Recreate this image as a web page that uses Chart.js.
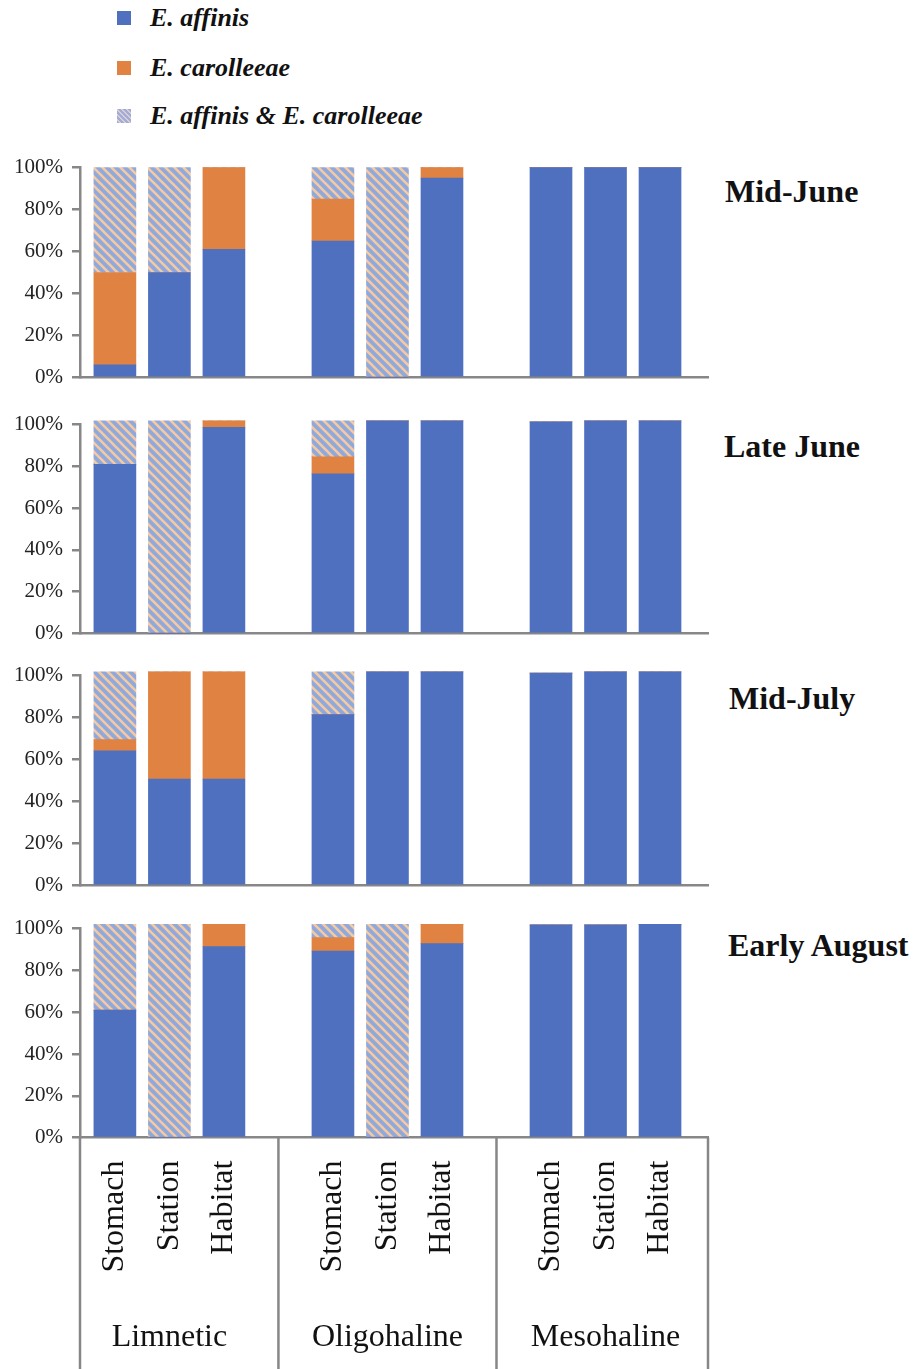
<!DOCTYPE html>
<html>
<head>
<meta charset="utf-8">
<title>E. affinis / E. carolleeae by salinity zone</title>
<script src="https://cdn.jsdelivr.net/npm/chart.js@4.4.1/dist/chart.umd.min.js"></script>
<style>
  body { margin: 0; width: 923px; height: 1369px; overflow: hidden; background: #fff; position: relative;
         font-family: 'Liberation Serif', 'DejaVu Serif', serif; }
  .panel { position: absolute; left: 0; top: 0; }
  .when { position: absolute; font-weight: bold; font-size: 32px; line-height: 32px; color: #111; white-space: nowrap; }
  .leg { position: absolute; left: 117px; height: 30px; display: flex; align-items: center;
         font-weight: bold; font-style: italic; font-size: 26px; color: #111; white-space: nowrap; }
  .leg span.box { display: inline-block; width: 14px; height: 14px; margin-right: 19px; }
</style>
</head>
<body>
<div id="legend"></div>
<div id="titles"></div>
<div class="panel" id="p0"><canvas id="c0" width="923" height="250"></canvas></div>
<div class="panel" id="p1"><canvas id="c1" width="923" height="250"></canvas></div>
<div class="panel" id="p2"><canvas id="c2" width="923" height="250"></canvas></div>
<div class="panel" id="p3"><canvas id="c3" width="923" height="500"></canvas></div>
<script>
// categories along x, '' = gap between salinity zones
const categories = ['Stomach', 'Station', 'Habitat', '', 'Stomach', 'Station', 'Habitat', '', 'Stomach', 'Station', 'Habitat'];
const zones = ['Limnetic', 'Oligohaline', 'Mesohaline'];
const periods = ['Mid-June', 'Late June', 'Mid-July', 'Early August'];
const seriesNames = ['E. affinis', 'E. carolleeae', 'E. affinis & E. carolleeae'];
const yTicks = [0, 20, 40, 60, 80, 100];

// one row per period (Mid-June, Late June, Mid-July, Early August), in %
const affinis = [
  [6, 50, 61, null, 65, 0, 95, null, 100, 100, 100],
  [81, 0, 98.7, null, 76.4, 101.8, 101.8, null, 101.3, 101.8, 101.8],
  [64.2, 50.7, 50.7, null, 81.4, 101.8, 101.8, null, 101.2, 101.8, 101.8],
  [61, 0, 91.4, null, 89.3, 0, 92.8, null, 101.8, 101.8, 102]
];
const carolleeae = [
  [44, 0, 39, null, 20, 0, 5, null, 0, 0, 0],
  [0, 0, 3.1, null, 8.2, 0, 0, null, 0, 0, 0],
  [5.3, 51.1, 51.1, null, 0, 0, 0, null, 0, 0, 0],
  [0, 0, 10.6, null, 6.4, 0, 9.2, null, 0, 0, 0]
];
const both = [
  [50, 50, 0, null, 15, 100, 0, null, 0, 0, 0],
  [20.8, 101.8, 0, null, 17.2, 0, 0, null, 0, 0, 0],
  [32.3, 0, 0, null, 20.4, 0, 0, null, 0, 0, 0],
  [41, 102, 0, null, 6.3, 102, 0, null, 0, 0, 0]
];

// page layout (pixels)
const areaTop = [168, 425, 676, 929];
const areaBottom = [378, 633.5, 885.5, 1138];
const titleLeft = [725, 724, 729, 728];
const titleMid = [191, 446, 698, 945];
const legendMid = [18, 68, 116];

const serif = "'Liberation Serif', 'DejaVu Serif', serif";
const blue = '#4e70bf';
const orange = '#e08241';
const axisColor = '#878787';

function hatch(ctx) {
  const s = 9;
  const t = document.createElement('canvas');
  t.width = t.height = s;
  const g = t.getContext('2d');
  g.fillStyle = '#8fa9db';
  g.fillRect(0, 0, s, s);
  g.strokeStyle = '#f6c9a2';
  g.lineWidth = 2.6;
  for (let k = -1; k <= 1; k++) {
    g.beginPath();
    g.moveTo(-1, -1 + k * s);
    g.lineTo(s + 1, s + 1 + k * s);
    g.stroke();
  }
  return ctx.createPattern(t, 'repeat');
}

// Excel leaves more room right of the last bar than a plain category axis
function spreadSlots(scale) {
  scale._startValue = -0.64;
  scale._valueRange = 11.52;
}

// vertical lines of the label table under the last panel
const tableLines = {
  id: 'tableLines',
  afterDraw(chart) {
    const { ctx, chartArea, scales } = chart;
    const xs = [chartArea.left, chartArea.right];
    categories.forEach((c, i) => { if (c === '') xs.push(scales.x.getPixelForValue(i)); });
    ctx.save();
    ctx.strokeStyle = axisColor;
    ctx.lineWidth = 2.5;
    xs.forEach(x => {
      ctx.beginPath();
      ctx.moveTo(x, chartArea.bottom);
      ctx.lineTo(x, chart.height);
      ctx.stroke();
    });
    ctx.restore();
  }
};

function makePanel(i) {
  const last = i === periods.length - 1;
  const canvas = document.getElementById('c' + i);
  const ctx = canvas.getContext('2d');
  const scales = {
    x: {
      stacked: true,
      offset: true,
      afterBuildTicks: spreadSlots,
      grid: { display: false },
      border: { display: true, color: axisColor, width: 2.5 },
      ticks: last
        ? { autoSkip: false, minRotation: 90, maxRotation: 90, padding: 15, color: '#111', font: { family: serif, size: 32 } }
        : { display: false }
    },
    y: {
      stacked: true,
      min: 0,
      max: 100,
      afterFit: s => { s.width = 80; },
      afterBuildTicks: s => { s.ticks = yTicks.map(v => ({ value: v })); },
      grid: { drawOnChartArea: false, drawTicks: true, tickLength: 8, color: axisColor, lineWidth: 2.5 },
      border: { color: axisColor, width: 2.5 },
      ticks: { autoSkip: false, padding: 9, color: '#222', font: { family: serif, size: 21 }, callback: v => v + '%' }
    }
  };
  if (last) {
    scales.x2 = {
      type: 'category',
      position: 'bottom',
      offset: true,
      afterBuildTicks: spreadSlots,
      grid: { display: false },
      border: { display: false },
      ticks: {
        autoSkip: false, maxRotation: 0, padding: 23, color: '#111', font: { family: serif, size: 32 },
        callback: (v, idx) => idx % 4 === 1 ? zones[Math.floor(idx / 4)] : ''
      }
    };
  }
  const chart = new Chart(ctx, {
    type: 'bar',
    data: {
      labels: categories,
      datasets: [
        { label: seriesNames[0], data: affinis[i], backgroundColor: blue },
        { label: seriesNames[1], data: carolleeae[i], backgroundColor: orange },
        { label: seriesNames[2], data: both[i], backgroundColor: hatch(ctx) }
      ].map(d => Object.assign(d, { barThickness: 42, borderWidth: 0, clip: false }))
    },
    options: {
      responsive: false,
      maintainAspectRatio: false,
      animation: false,
      events: [],
      layout: { padding: { left: 0, right: 215, top: 16, bottom: last ? 40 : 4 } },
      plugins: { legend: { display: false }, tooltip: { enabled: false } },
      scales: scales
    },
    plugins: last ? [tableLines] : []
  });

  // size the canvas so the 0-100% span matches, then move it into place
  const want = areaBottom[i] - areaTop[i];
  for (let k = 0; k < 6; k++) {
    const have = chart.chartArea.bottom - chart.chartArea.top;
    if (Math.abs(want - have) < 0.5) break;
    chart.resize(923, Math.round(chart.height + want - have));
  }
  document.getElementById('p' + i).style.top = (areaTop[i] - chart.chartArea.top) + 'px';

  const t = document.createElement('div');
  t.className = 'when';
  t.textContent = periods[i];
  t.style.left = titleLeft[i] + 'px';
  t.style.top = (titleMid[i] - 16) + 'px';
  document.getElementById('titles').appendChild(t);
}

periods.forEach((p, i) => makePanel(i));

// legend
const swatches = [blue, orange, 'repeating-linear-gradient(45deg, #a3acd6 0 2px, #d8cfd6 2px 3.5px)'];
seriesNames.forEach((name, i) => {
  const row = document.createElement('div');
  row.className = 'leg';
  row.style.top = (legendMid[i] - 15) + 'px';
  const box = document.createElement('span');
  box.className = 'box';
  box.style.background = swatches[i];
  row.appendChild(box);
  row.appendChild(document.createTextNode(name));
  document.getElementById('legend').appendChild(row);
});
</script>
</body>
</html>
